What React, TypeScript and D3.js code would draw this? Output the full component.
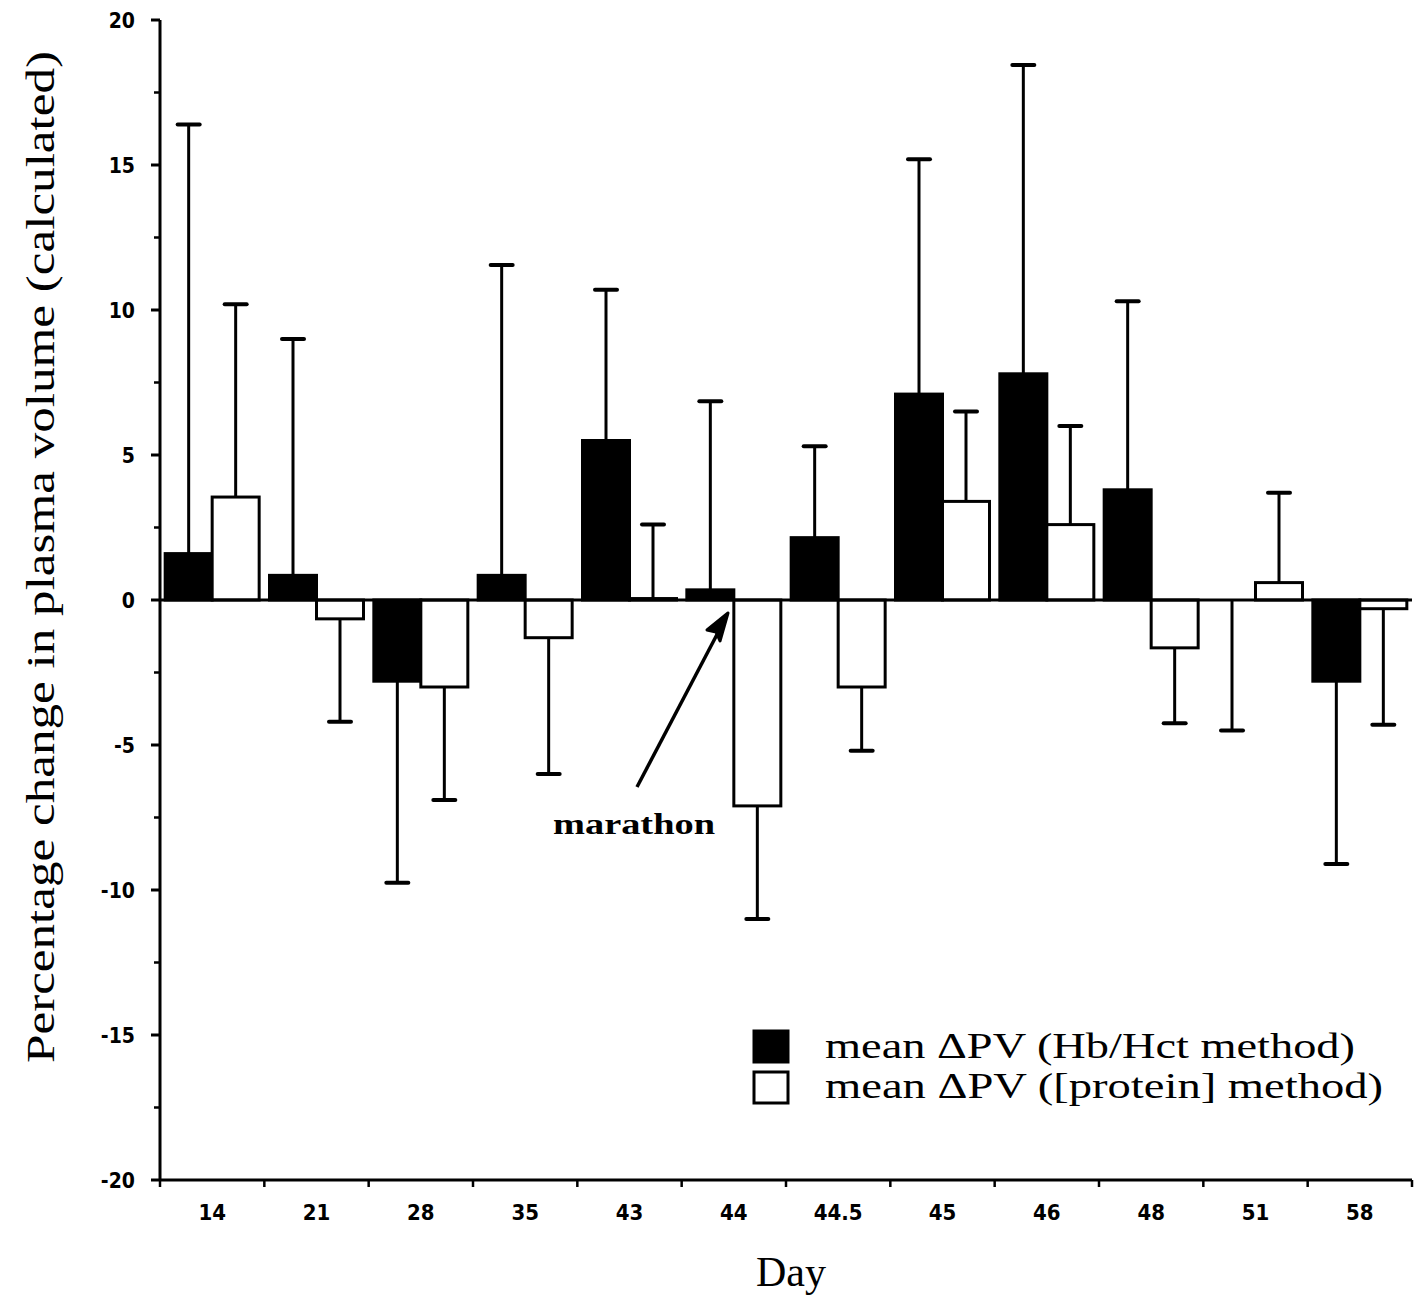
import React from "react";
import * as d3 from "d3";

const categories = ["14", "21", "28", "35", "43", "44", "44.5", "45", "46", "48", "51", "58"];
const seriesNames = ["mean ΔPV (Hb/Hct method)", "mean ΔPV ([protein] method)"];
const hbMean = [1.6, 0.85, -2.8, 0.85, 5.5, 0.35, 2.15, 7.1, 7.8, 3.8, 0, -2.8];
const hbErrEnd = [16.4, 9.0, -9.75, 11.55, 10.7, 6.85, 5.3, 15.2, 18.45, 10.3, -4.5, -9.1];
const protMean = [3.55, -0.65, -3.0, -1.3, 0.05, -7.1, -3.0, 3.4, 2.6, -1.65, 0.6, -0.3];
const protErrEnd = [10.2, -4.2, -6.9, -6.0, 2.6, -11.0, -5.2, 6.5, 6.0, -4.25, 3.7, -4.3];
const yMajorTicks = [20, 15, 10, 5, 0, -5, -10, -15, -20];
const yMinorTicks = [17.5, 12.5, 7.5, 2.5, -2.5, -7.5, -12.5, -17.5];

const W = 1419;
const H = 1298;
const left = 160;
const right = 1412;
const top = 20;
const bottom = 1180;

export default function App() {
  const x = d3.scaleBand<string>().domain(categories).range([left, right]).padding(0);
  const sub = d3
    .scaleBand<number>()
    .domain([0, 1])
    .range([0, x.bandwidth()])
    .paddingInner(0)
    .paddingOuter(0.11);
  const y = d3.scaleLinear().domain([-20, 20]).range([bottom, top]);

  const series = [
    { mean: hbMean, err: hbErrEnd, fill: "#000" },
    { mean: protMean, err: protErrEnd, fill: "#fff" },
  ];

  const tickFont = "'DejaVu Sans Condensed', 'DejaVu Sans', Verdana, sans-serif";
  const serif = "'Liberation Serif', 'Times New Roman', serif";

  const boundaries = categories.map((c) => x(c)!).concat([right]);
  const legendLengths = [530, 558];

  return (
    <svg
      width={W}
      height={H}
      style={{ position: "absolute", left: 0, top: 0, background: "#fff" }}
    >
      {/* bars */}
      {series.map((s, si) =>
        categories.map((c, i) => {
          const x0 = x(c)! + sub(si)!;
          const v = s.mean[i];
          const yTop = y(Math.max(0, v));
          const h = Math.abs(y(v) - y(0));
          if (h < 0.5) return null;
          return (
            <rect
              key={`b${si}-${i}`}
              x={x0}
              y={yTop}
              width={sub.bandwidth()}
              height={h}
              fill={s.fill}
              stroke="#000"
              strokeWidth={3}
            />
          );
        })
      )}
      {/* error bars */}
      {series.map((s, si) =>
        categories.map((c, i) => {
          const cx = x(c)! + sub(si)! + sub.bandwidth() / 2;
          const y1 = y(s.mean[i]);
          const y2 = y(s.err[i]);
          return (
            <g key={`e${si}-${i}`}>
              <line x1={cx} x2={cx} y1={y1} y2={y2} stroke="#000" strokeWidth={3} />
              <line
                x1={cx - 11}
                x2={cx + 11}
                y1={y2}
                y2={y2}
                stroke="#000"
                strokeWidth={4}
                strokeLinecap="round"
              />
            </g>
          );
        })
      )}
      {/* zero line */}
      <line x1={left} x2={right} y1={y(0)} y2={y(0)} stroke="#000" strokeWidth={3} />

      {/* y axis */}
      <line x1={left} x2={left} y1={y(20)} y2={y(-20)} stroke="#000" strokeWidth={3} />
      {yMajorTicks.map((t) => (
        <g key={`yt${t}`}>
          <line x1={left - 9} x2={left} y1={y(t)} y2={y(t)} stroke="#000" strokeWidth={3} />
          <text
            x={left - 25}
            y={y(t)}
            dy="0.36em"
            textAnchor="end"
            fontFamily={tickFont}
            fontWeight="bold"
            fontSize={21}
          >
            {t}
          </text>
        </g>
      ))}
      {yMinorTicks.map((t) => (
        <line key={`ym${t}`} x1={left - 6} x2={left} y1={y(t)} y2={y(t)} stroke="#000" strokeWidth={2.5} />
      ))}

      {/* x axis */}
      <line x1={left} x2={right} y1={bottom} y2={bottom} stroke="#000" strokeWidth={3} />
      {boundaries.map((b, i) => (
        <line key={`xt${i}`} x1={b} x2={b} y1={bottom} y2={bottom + 7} stroke="#000" strokeWidth={2.5} />
      ))}
      {categories.map((c) => (
        <text
          key={`xl${c}`}
          x={x(c)! + x.bandwidth() / 2}
          y={bottom + 40}
          textAnchor="middle"
          fontFamily={tickFont}
          fontWeight="bold"
          fontSize={22}
        >
          {c}
        </text>
      ))}

      {/* axis titles */}
      <text x={791} y={1286} textAnchor="middle" fontFamily={serif} fontSize={42}>
        Day
      </text>
      <text
        transform={`translate(54, ${557}) rotate(-90)`}
        textAnchor="middle"
        fontFamily={serif}
        fontSize={41}
        textLength={1012}
        lengthAdjust="spacingAndGlyphs"
      >
        Percentage change in plasma volume (calculated)
      </text>

      {/* marathon annotation */}
      <line x1={637} y1={787} x2={722} y2={625} stroke="#000" strokeWidth={3.5} />
      <path d="M728,613 L707,630 L716,632 L720,641 Z" fill="#000" stroke="#000" strokeWidth={3} strokeLinejoin="round" />
      <text
        x={553}
        y={834}
        fontFamily={serif}
        fontWeight="bold"
        fontSize={30}
        textLength={162}
        lengthAdjust="spacingAndGlyphs"
      >
        marathon
      </text>

      {/* legend */}
      {seriesNames.map((n, i) => (
        <g key={`lg${i}`}>
          <rect
            x={754}
            y={1031 + i * 41}
            width={34}
            height={31}
            fill={series[i].fill}
            stroke="#000"
            strokeWidth={3}
          />
          <text
            x={825}
            y={1058 + i * 40}
            fontFamily={serif}
            fontSize={36}
            textLength={legendLengths[i]}
            lengthAdjust="spacingAndGlyphs"
          >
            {n}
          </text>
        </g>
      ))}
    </svg>
  );
}
